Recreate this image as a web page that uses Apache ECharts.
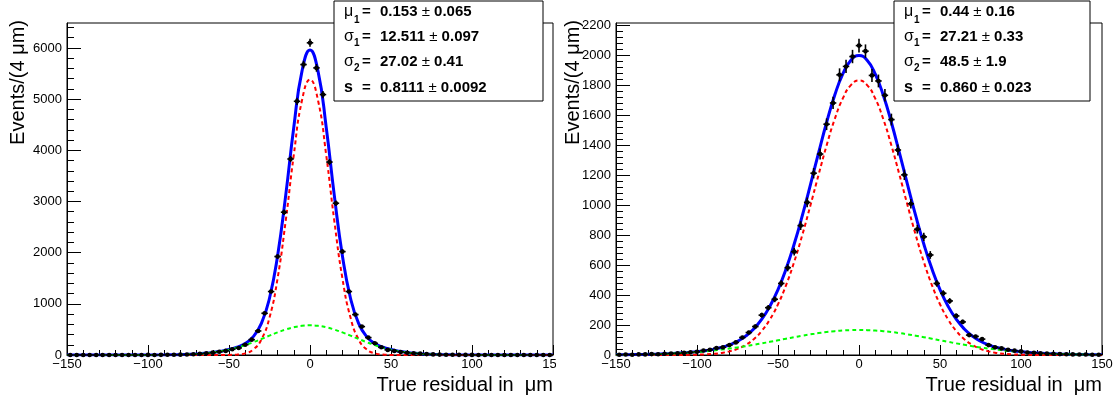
<!DOCTYPE html>
<html>
<head>
<meta charset="utf-8">
<script src="https://cdn.jsdelivr.net/npm/echarts@6/dist/echarts.min.js"></script>
<style>
html,body{margin:0;padding:0;background:#fff;}
#chart{width:1113px;height:405px;}
</style>
</head>
<body>
<div id="chart"></div>
<script>
// ---------------- data ----------------
const binWidth = 4;
const binCenters = [-148,-144,-140,-136,-132,-128,-124,-120,-116,-112,-108,-104,-100,-96,-92,-88,-84,-80,-76,-72,-68,-64,-60,-56,-52,-48,-44,-40,-36,-32,-28,-24,-20,-16,-12,-8,-4,0,4,8,12,16,20,24,28,32,36,40,44,48,52,56,60,64,68,72,76,80,84,88,92,96,100,104,108,112,116,120,124,128,132,136,140,144,148];

const leftCounts = [0,1,0,1,0,1,1,0,1,1,0,1,
  2,1,3,4,5,7,10,15,22,33,46,64,80,112,138,200,300,470,815,1240,1924,2790,3830,4957,5675,
  6100,
  5610,5088,3770,2965,2020,1240,790,555,340,229,150,100,78,60,45,33,26,18,12,8,6,4,3,2,2,
  1,1,0,1,0,1,0,0,1,0,0,1];

const rightCounts = [2,3,2,4,4,6,5,8,10,11,14,18,
  22,30,35,46,51,66,84,117,150,190,266,316,372,478,583,690,864,1019,1214,1342,1541,1683,1871,1927,1993,
  2066,
  2029,1867,1830,1734,1572,1369,1203,1010,840,789,668,478,412,361,261,221,133,124,106,66,51,44,35,29,24,
  17,15,12,9,8,6,5,4,3,3,2,2];

const fitX = [-150,-145,-140,-135,-130,-125,-120,-115,-110,-105,-100,-95,-90,-85,-80,-75,-70,-65,-60,-55,-50,-45,-40,-35,-30,-25,-20,-15,-10,-5,0,5,10,15,20,25,30,35,40,45,50,55,60,65,70,75,80,85,90,95,100,105,110,115,120,125,130,135,140,145,150];

const leftFitTotal = [0,0,0,0,0,0,0,0,0.1,0.3,0.6,1.2,2.3,4.1,7.2,12.3,20.2,32.1,49.3,73.4,106.5,153,226,358,617,1109,1940,3119,4451,5537,
  5960,
  5537,4451,3119,1940,1109,617,358,226,153,106.5,73.4,49.3,32.1,20.2,12.3,7.2,4.1,2.3,1.2,0.6,0.3,0.1,0,0,0,0,0,0,0,0];
const leftFitCore = [0,0,0,0,0,0,0,0,0,0,0,0,0,0,0,0,0,0,0.05,0.34,1.8,8.3,32.4,107.5,303.5,731,1499,2622,3909,4967,
  5380,
  4967,3909,2622,1499,731,303.5,107.5,32.4,8.3,1.8,0.34,0.05,0,0,0,0,0,0,0,0,0,0,0,0,0,0,0,0,0,0];
const leftFitTail = [0,0,0,0,0,0,0,0,0.1,0.3,0.6,1.2,2.3,4.1,7.2,12.3,20.2,32.1,49.3,73.1,104.7,144.9,193.9,250.7,313.1,378.0,441.0,497.2,541.6,570.2,
  580,
  570.2,541.6,497.2,441.0,378.0,313.1,250.7,193.9,144.9,104.7,73.1,49.3,32.1,20.2,12.3,7.2,4.1,2.3,1.2,0.6,0.3,0.1,0,0,0,0,0,0,0,0];

const rightFitTotal = [1.4,1.9,2.6,3.5,4.6,6.0,7.9,10.2,13.3,17.1,22.0,28.6,37.6,49.9,67.2,91.6,125.9,173.7,238.9,325.5,436.9,575.5,741.0,930.1,1136.2,1348.1,1552.6,1734.0,1876.8,1968.4,
  2000,
  1968.4,1876.8,1734.0,1552.6,1348.1,1136.2,930.1,741.0,575.5,436.9,325.5,238.9,173.7,125.9,91.6,67.2,49.9,37.6,28.6,22.0,17.1,13.3,10.2,7.9,6.0,4.6,3.5,2.6,1.9,1.4];
const rightFitCore = [0,0,0,0,0,0,0.1,0.2,0.5,1.1,2.1,4.1,7.7,13.9,24.3,41.1,67.0,105.7,161.2,237.7,338.7,466.9,622.1,801.4,998.3,1201.9,1399.2,1574.8,1713.3,1802.3,
  1833,
  1802.3,1713.3,1574.8,1399.2,1201.9,998.3,801.4,622.1,466.9,338.7,237.7,161.2,105.7,67.0,41.1,24.3,13.9,7.7,4.1,2.1,1.1,0.5,0.2,0.1,0,0,0,0,0,0];
const rightFitTail = [1.4,1.9,2.6,3.5,4.6,6.0,7.8,10.0,12.8,16.0,19.9,24.5,29.9,36.0,42.9,50.5,58.9,68.0,77.7,87.8,98.2,108.6,118.9,128.7,137.9,146.2,153.4,159.2,163.5,166.1,
  167,
  166.1,163.5,159.2,153.4,146.2,137.9,128.7,118.9,108.6,98.2,87.8,77.7,68.0,58.9,50.5,42.9,36.0,29.9,24.5,19.9,16.0,12.8,10.0,7.8,6.0,4.6,3.5,2.6,1.9,1.4];

const xTicks = [-150,-100,-50,0,50,100,150];
const leftYTicks = [0,1000,2000,3000,4000,5000,6000];
const rightYTicks = [0,200,400,600,800,1000,1200,1400,1600,1800,2000,2200];
const leftYMax = 6487;
const rightYMax = 2217;

const parLabels = ['μ','σ','σ','s'];
const parSubs = ['1','1','2',''];
const leftParValues = ['0.153','12.511','27.02','0.8111'];
const leftParErrors = ['0.065','0.097','0.41','0.0092'];
const rightParValues = ['0.44','27.21','48.5','0.860'];
const rightParErrors = ['0.16','0.33','1.9','0.023'];

const xTitle = 'True residual in  μm';
const yTitle = 'Events/(4 μm)';

// ---------------- chart ----------------
const FONT = '"Liberation Sans", Arial, Helvetica, sans-serif';
const chart = echarts.init(document.getElementById('chart'), null, {renderer:'canvas'});

function minorList(step, max, majorStep){
  const out=[];
  for(let v=step; v<=max+1e-9; v+=step){ if(Math.abs(v/majorStep-Math.round(v/majorStep))>1e-6) out.push(+v.toFixed(6)); }
  return out;
}
const fmt = v => (v<0 ? '\u2212'+Math.abs(v) : String(v));

function xAxisDef(gi){
  return {
    type:'value', gridIndex:gi, min:-150, max:150, interval:50,
    axisLine:{show:true, onZero:false, lineStyle:{color:'#000', width:1}},
    axisTick:{show:true, inside:true, length:10, lineStyle:{color:'#000', width:1}},
    minorTick:{show:true, splitNumber:5, length:5, lineStyle:{color:'#000', width:1}},
    splitLine:{show:false}, minorSplitLine:{show:false},
    axisLabel:{show:true, color:'#000', fontSize:13, fontFamily:FONT, margin:3, formatter:fmt, showMinLabel:true, showMaxLabel:true}
  };
}
function yAxisMain(gi, max, ticks){
  return {
    type:'value', gridIndex:gi, min:0, max:max, position:'left',
    axisLine:{show:true, onZero:false, lineStyle:{color:'#000', width:1}},
    axisTick:{show:true, inside:true, length:14, customValues:ticks, lineStyle:{color:'#000', width:1}},
    splitLine:{show:false},
    axisLabel:{show:true, color:'#000', fontSize:13, fontFamily:FONT, margin:5, customValues:ticks, formatter:fmt}
  };
}
function yAxisMinor(gi, max, minors){
  return {
    type:'value', gridIndex:gi, min:0, max:max, position:'left', offset:0,
    axisLine:{show:false, onZero:false},
    axisTick:{show:true, inside:true, length:7, customValues:minors, lineStyle:{color:'#000', width:1}},
    splitLine:{show:false},
    axisLabel:{show:false}
  };
}

function renderPoint(params, api){
  const x = api.value(0), y = api.value(1), e = api.value(2);
  const c = api.coord([x, y]);
  const l = api.coord([x - binWidth/2, y]);
  const r = api.coord([x + binWidth/2, y]);
  const t = api.coord([x, y + e]);
  const b = api.coord([x, Math.max(0, y - e)]);
  return {type:'group', children:[
    {type:'line', shape:{x1:l[0], y1:c[1], x2:r[0], y2:c[1]}, style:{stroke:'#000', lineWidth:1.6}},
    {type:'line', shape:{x1:c[0], y1:t[1], x2:c[0], y2:b[1]}, style:{stroke:'#000', lineWidth:1.6}},
    {type:'circle', shape:{cx:c[0], cy:c[1], r:2.3}, style:{fill:'#000'}}
  ]};
}

function pointSeries(xi, yi, counts){
  return {
    type:'custom', xAxisIndex:xi, yAxisIndex:yi, z:10,
    renderItem: renderPoint,
    data: binCenters.map((x,i)=>[x, counts[i], Math.sqrt(counts[i])]),
    animation:false, silent:true
  };
}
function curveSeries(xi, yi, vals, color, width, dash, z){
  return {
    type:'line', xAxisIndex:xi, yAxisIndex:yi, z:z,
    data: fitX.map((x,i)=>[x, vals[i]]),
    showSymbol:false, symbol:'none', smooth:0.5,
    lineStyle:{color:color, width:width, type:dash},
    animation:false, silent:true
  };
}

function statBox(bx, values, errors){
  const rowsY = [12, 37, 62, 88];
  const els = [{
    type:'rect', shape:{x:bx, y:1, width: (bx<600? 209:196), height:100},
    style:{fill:'#fff', stroke:'#000', lineWidth:1}, z:50
  }];
  for(let i=0;i<4;i++){
    const y = rowsY[i];
    const isGreek = parLabels[i] !== 's';
    els.push({type:'text', x:bx+10, y:y, z:51, style:{text:parLabels[i], font:(isGreek?'':'bold ')+'16px '+FONT, fill:'#000', align:'left', verticalAlign:'middle', textAlign:'left', textVerticalAlign:'middle'}});
    if(parSubs[i]){
      els.push({type:'text', x:bx+20, y:y+(i===0?8:6), z:51, style:{text:parSubs[i], font:'bold 10px '+FONT, fill:'#000', align:'left', verticalAlign:'middle', textAlign:'left', textVerticalAlign:'middle'}});
    }
    els.push({type:'text', x:bx+28, y:y, z:51, style:{text:'=', font:'bold 15px '+FONT, fill:'#000', align:'left', verticalAlign:'middle', textAlign:'left', textVerticalAlign:'middle'}});
    els.push({type:'text', x:bx+46, y:y, z:51, style:{
      text:'{b|'+values[i]+' }{n|±}{b| '+errors[i]+'}',
      rich:{b:{font:'bold 15px '+FONT, fill:'#000'}, n:{font:'15px '+FONT, fill:'#000'}},
      align:'left', verticalAlign:'middle', textAlign:'left', textVerticalAlign:'middle'}});
  }
  return els;
}

const graphics = [].concat(
  // clip of the left pad (label "150" cut at pad edge)
  [{type:'rect', shape:{x:556, y:356, width:12, height:18}, style:{fill:'#fff'}, z:40}],
  statBox(334, leftParValues, leftParErrors),
  statBox(894, rightParValues, rightParErrors),
  [
    {type:'text', x:553, y:385, z:30, style:{text:xTitle, font:'20px '+FONT, fill:'#000', align:'right', verticalAlign:'middle', textAlign:'right', textVerticalAlign:'middle'}},
    {type:'text', x:1102, y:385, z:30, style:{text:xTitle, font:'20px '+FONT, fill:'#000', align:'right', verticalAlign:'middle', textAlign:'right', textVerticalAlign:'middle'}},
    {type:'text', x:18, y:20, rotation:Math.PI/2, z:30, style:{text:yTitle, font:'20px '+FONT, fill:'#000', align:'right', verticalAlign:'middle', textAlign:'right', textVerticalAlign:'middle'}},
    {type:'text', x:573, y:20, rotation:Math.PI/2, z:30, style:{text:yTitle, font:'20px '+FONT, fill:'#000', align:'right', verticalAlign:'middle', textAlign:'right', textVerticalAlign:'middle'}}
  ]
);

const option = {
  animation:false,
  backgroundColor:'#fff',
  textStyle:{fontFamily:FONT},
  grid:[
    {left:67, right:1113-553, top:23, bottom:405-355, show:true, borderColor:'#000', borderWidth:1, backgroundColor:'transparent', containLabel:false, outerBoundsMode:'none'},
    {left:616, right:1113-1102, top:23, bottom:405-355, show:true, borderColor:'#000', borderWidth:1, backgroundColor:'transparent', containLabel:false, outerBoundsMode:'none'}
  ],
  xAxis:[xAxisDef(0), xAxisDef(1)],
  yAxis:[
    yAxisMain(0, leftYMax, leftYTicks),
    yAxisMinor(0, leftYMax, minorList(200, leftYMax, 1000)),
    yAxisMain(1, rightYMax, rightYTicks),
    yAxisMinor(1, rightYMax, minorList(40, rightYMax, 200))
  ],
  series:[
    curveSeries(0, 0, leftFitTotal, '#0000ff', 3, 'solid', 3),
    curveSeries(0, 0, leftFitCore, '#ff0000', 2, [4,3], 4),
    curveSeries(0, 0, leftFitTail, '#00ff00', 2, [4,3], 5),
    pointSeries(0, 0, leftCounts),
    curveSeries(1, 2, rightFitTotal, '#0000ff', 3, 'solid', 3),
    curveSeries(1, 2, rightFitCore, '#ff0000', 2, [4,3], 4),
    curveSeries(1, 2, rightFitTail, '#00ff00', 2, [4,3], 5),
    pointSeries(1, 2, rightCounts)
  ],
  graphic: graphics
};
chart.setOption(option);
</script>
</body>
</html>
